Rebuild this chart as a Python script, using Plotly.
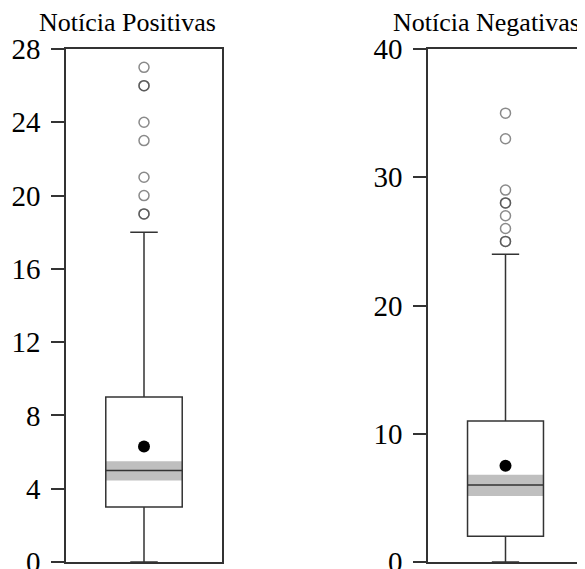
import plotly.graph_objects as go
from plotly.subplots import make_subplots

# ---- data ----
panel_titles = ["Notícia Positivas", "Notícia Negativas"]
lower_fence = [0, 0]
q1 = [3, 2]
median = [5, 6]
q3 = [9, 11]
upper_fence = [18, 24]
means = [6.3, 7.5]
median_ci_low = [4.45, 5.15]
median_ci_high = [5.5, 6.8]
outliers_pos = [19, 19, 20, 21, 23, 24, 26, 26, 27]
outliers_neg = [25, 25, 26, 27, 28, 28, 29, 33, 35]
outliers = [outliers_pos, outliers_neg]
yticks_pos = [0, 4, 8, 12, 16, 20, 24, 28]
yticks_neg = [0, 10, 20, 30, 40]
yticks = [yticks_pos, yticks_neg]
yranges = [[0, 28], [0, 40]]

# page body has an 8px margin; the figure runs a little past the window bottom
# so the bottom "0" tick labels are drawn (and cut by the window, as in the reference)
OFF = 8
W, H = 585 - OFF, 569 - OFF + 24
fig = make_subplots(rows=1, cols=2)

line_col = "#333333"
box_w = 0.98
for i in range(2):
    c = i + 1
    # gray median confidence band
    fig.add_trace(go.Bar(x=[0], y=[median_ci_high[i] - median_ci_low[i]], base=[median_ci_low[i]],
                         width=[box_w], marker=dict(color="#bfbfbf", line=dict(width=0)),
                         showlegend=False, hoverinfo="skip"), row=1, col=c)
    fig.add_trace(go.Box(x=[0], q1=[q1[i]], median=[median[i]], q3=[q3[i]],
                         lowerfence=[lower_fence[i]], upperfence=[upper_fence[i]],
                         width=box_w, whiskerwidth=0.36, boxpoints=False,
                         fillcolor="rgba(0,0,0,0)", line=dict(color=line_col, width=1.5),
                         showlegend=False), row=1, col=c)
    fig.add_trace(go.Scatter(x=[0] * len(outliers[i]), y=outliers[i], mode="markers",
                             marker=dict(symbol="circle-open", size=10,
                                         color="rgba(60,60,60,0.6)", line=dict(width=1.5)),
                             showlegend=False, cliponaxis=False), row=1, col=c)
    fig.add_trace(go.Scatter(x=[0], y=[means[i]], mode="markers",
                             marker=dict(symbol="circle", size=12, color="black"),
                             showlegend=False), row=1, col=c)


def px_x(x):
    return (x - OFF) / W


def px_y(y):
    return (H - (y - OFF)) / H


tick_font = dict(family="Liberation Serif", size=29, color="black")
fig.update_layout(
    width=W, height=H, margin=dict(l=0, r=0, t=0, b=0),
    paper_bgcolor="white", plot_bgcolor="white", barmode="overlay",
    xaxis=dict(domain=[px_x(66), px_x(222)]),
    xaxis2=dict(domain=[px_x(428), px_x(583)]),
)
ydom = [px_y(562), px_y(49)]
for i in range(2):
    c = i + 1
    fig.update_xaxes(range=[-1, 1], showticklabels=False, ticks="", showgrid=False, zeroline=False,
                     automargin=False,
                     showline=True, linecolor=line_col, linewidth=1.5, mirror=True, row=1, col=c)
    fig.update_yaxes(range=yranges[i], tickvals=yticks[i],
                     ticktext=[str(v) for v in yticks[i]],
                     domain=ydom, showgrid=False, zeroline=False, automargin=False,
                     showline=True, linecolor=line_col, linewidth=1.5, mirror=True,
                     ticks="outside", ticklen=13, tickwidth=1.5, tickcolor=line_col,
                     ticklabelstandoff=5,
                     tickfont=tick_font, row=1, col=c)

title_x = [px_x(127), px_x(486)]
for i in range(2):
    fig.add_annotation(text=panel_titles[i], x=title_x[i], y=px_y(22.5), xref="paper", yref="paper",
                       xanchor="center", yanchor="middle", showarrow=False,
                       font=dict(family="Liberation Serif", size=26, color="black"))

fig.write_html("out.html")
